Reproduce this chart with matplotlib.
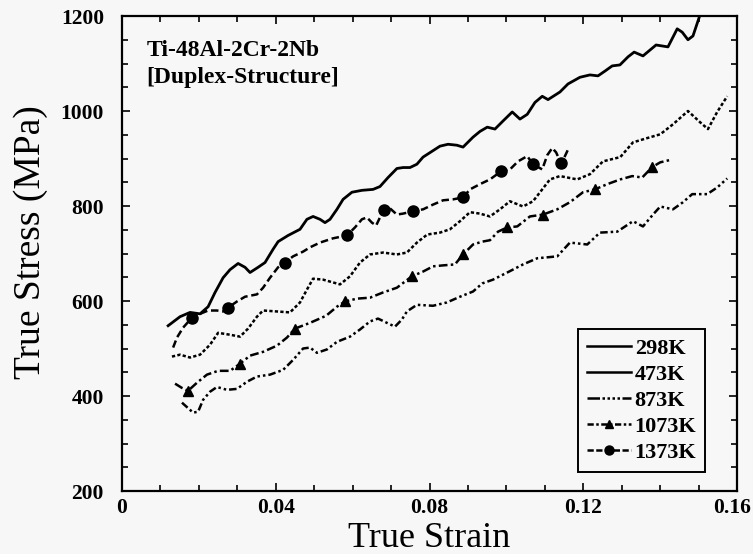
import matplotlib.pyplot as plt
import matplotlib.transforms as mtransforms
from matplotlib.lines import Line2D
from matplotlib.ticker import MultipleLocator

plt.rcParams['font.family'] = ['Liberation Serif', 'DejaVu Serif']

# ── data (true strain, true stress in MPa) ─────────────────────────────────
strain_298 = [0.0120, 0.0151, 0.0177, 0.0203, 0.0224, 0.0242, 0.0263, 0.0281, 0.0302, 0.0320,
              0.0333, 0.0354, 0.0372, 0.0393, 0.0406, 0.0432, 0.0463, 0.0481, 0.0497, 0.0515,
              0.0528, 0.0541, 0.0559, 0.0575, 0.0598, 0.0624, 0.0653, 0.0671, 0.0692, 0.0715,
              0.0731, 0.0749, 0.0767, 0.0783, 0.0806, 0.0827, 0.0848, 0.0871, 0.0887, 0.0913,
              0.0931, 0.0950, 0.0970, 0.0991, 0.1015, 0.1035, 0.1054, 0.1074, 0.1093, 0.1108,
              0.1139, 0.1160, 0.1191, 0.1217, 0.1238, 0.1256, 0.1275, 0.1295, 0.1316, 0.1332,
              0.1355, 0.1389, 0.1420, 0.1444, 0.1457, 0.1472, 0.1485, 0.1504]
stress_298 = [548, 567, 576, 573, 588, 618, 649, 666, 679, 671,
              660, 671, 681, 709, 725, 738, 751, 772, 778, 772,
              765, 772, 793, 814, 829, 833, 835, 841, 860, 879,
              881, 881, 888, 903, 915, 926, 930, 928, 924, 945,
              957, 966, 962, 979, 998, 983, 993, 1018, 1031, 1024,
              1040, 1057, 1071, 1076, 1074, 1084, 1095, 1097, 1114, 1124,
              1116, 1139, 1135, 1173, 1166, 1150, 1158, 1204]

strain_473 = [0.0130, 0.0151, 0.0177, 0.0203, 0.0229, 0.0250, 0.0281, 0.0307, 0.0328, 0.0351,
              0.0367, 0.0403, 0.0437, 0.0463, 0.0481, 0.0497, 0.0523, 0.0567, 0.0593, 0.0619,
              0.0645, 0.0679, 0.0715, 0.0741, 0.0767, 0.0794, 0.0827, 0.0853, 0.0879, 0.0905,
              0.0931, 0.0957, 0.0983, 0.1009, 0.1043, 0.1069, 0.1093, 0.1113, 0.1139, 0.1184,
              0.1217, 0.1251, 0.1296, 0.1329, 0.1366, 0.1400, 0.1433, 0.1472, 0.1504, 0.1524,
              0.1548, 0.1574]
stress_473 = [483, 487, 481, 487, 508, 533, 529, 525, 542, 567,
              580, 578, 576, 597, 624, 647, 645, 635, 652, 681,
              698, 702, 698, 702, 723, 740, 744, 751, 768, 787,
              784, 778, 793, 810, 799, 810, 835, 856, 863, 856,
              867, 894, 903, 934, 943, 951, 972, 1000, 976, 962,
              998, 1031]

strain_873 = [0.0156, 0.0185, 0.0198, 0.0211, 0.0229, 0.0247, 0.0273, 0.0299, 0.0325, 0.0351,
              0.0385, 0.0419, 0.0445, 0.0471, 0.0489, 0.0507, 0.0533, 0.0559, 0.0593, 0.0619,
              0.0645, 0.0666, 0.0689, 0.0710, 0.0728, 0.0741, 0.0767, 0.0809, 0.0845, 0.0879,
              0.0913, 0.0937, 0.0965, 0.1002, 0.1043, 0.1080, 0.1132, 0.1165, 0.1210, 0.1243,
              0.1288, 0.1329, 0.1355, 0.1381, 0.1400, 0.1433, 0.1459, 0.1483, 0.1522, 0.1548,
              0.1574]
stress_873 = [386, 365, 367, 392, 409, 419, 413, 415, 430, 441,
              445, 455, 476, 500, 502, 491, 498, 514, 525, 540,
              557, 563, 554, 546, 561, 578, 592, 590, 597, 609,
              620, 637, 645, 660, 677, 690, 694, 723, 719, 744,
              746, 768, 757, 782, 799, 793, 808, 825, 825, 839,
              858]

strain_1073 = [0.0138, 0.0156, 0.0172, 0.0195, 0.0221, 0.0250, 0.0281, 0.0307, 0.0333, 0.0367,
               0.0403, 0.0429, 0.0450, 0.0489, 0.0531, 0.0559, 0.0580, 0.0611, 0.0645, 0.0679,
               0.0715, 0.0736, 0.0754, 0.0783, 0.0809, 0.0835, 0.0866, 0.0887, 0.0913, 0.0937,
               0.0957, 0.0978, 0.1002, 0.1028, 0.1061, 0.1095, 0.1132, 0.1165, 0.1199, 0.1230,
               0.1262, 0.1296, 0.1327, 0.1353, 0.1366, 0.1379, 0.1400, 0.1431]
stress_1073 = [426, 417, 411, 428, 445, 453, 453, 468, 485, 493,
               506, 523, 542, 554, 569, 588, 599, 605, 607, 618,
               628, 641, 652, 662, 673, 675, 677, 698, 719, 725,
               728, 746, 755, 757, 778, 782, 793, 808, 829, 835,
               846, 856, 863, 860, 871, 882, 892, 898]
marks_1073 = [2, 7, 12, 16, 22, 27, 32, 35, 39, 45]

strain_1373 = [0.0133, 0.0143, 0.0159, 0.0182, 0.0203, 0.0224, 0.0247, 0.0263, 0.0276, 0.0299,
               0.0320, 0.0351, 0.0367, 0.0385, 0.0406, 0.0424, 0.0445, 0.0471, 0.0489, 0.0515,
               0.0549, 0.0585, 0.0606, 0.0624, 0.0637, 0.0650, 0.0661, 0.0671, 0.0682, 0.0697,
               0.0715, 0.0731, 0.0757, 0.0783, 0.0809, 0.0835, 0.0861, 0.0887, 0.0905, 0.0931,
               0.0957, 0.0986, 0.1009, 0.1030, 0.1054, 0.1069, 0.1093, 0.1106, 0.1119, 0.1129,
               0.1142, 0.1152, 0.1163]
stress_1373 = [502, 523, 544, 565, 573, 580, 580, 578, 586, 599,
               609, 614, 628, 649, 671, 681, 694, 704, 713, 723,
               732, 738, 755, 772, 776, 765, 759, 776, 791, 795,
               782, 784, 789, 793, 803, 812, 814, 818, 835, 846,
               856, 873, 877, 894, 905, 888, 877, 907, 922, 913,
               890, 905, 924]
marks_1373 = [3, 8, 15, 21, 28, 32, 37, 41, 45, 50]

labels = ["298K", "473K", "873K", "1073K", "1373K"]
xticks = [0, 0.04, 0.08, 0.12, 0.16]
xtick_labels = ["0", "0.04", "0.08", "0.12", "0.16"]

# ── figure ────────────────────────────────────────────────────────────────
bg = "#f7f7f7"
fig = plt.figure(figsize=(7.53, 5.54), dpi=100, facecolor=bg)
ax = fig.add_axes([0.162, 0.1137, 0.817, 0.8574], facecolor=bg)

ax.plot(strain_298, stress_298, color="black", lw=2.0, ls="-")
ax.plot(strain_473, stress_473, color="black", lw=1.8, ls=(0, (1.3, 0.9)))
ax.plot(strain_873, stress_873, color="black", lw=1.8, ls=(0, (3, 1.2, 1, 1.2, 1, 1.2)))
ax.plot(strain_1073, stress_1073, color="black", lw=1.8, ls=(0, (3.5, 1.3, 1, 1.3)),
        marker="^", markersize=7, markevery=marks_1073)
ax.plot(strain_1373, stress_1373, color="black", lw=1.8, ls=(0, (3, 1.5)),
        marker="o", markersize=8, markevery=marks_1373)

ax.set_xlim(0, 0.16)
ax.set_ylim(200, 1200)
ax.xaxis.set_minor_locator(MultipleLocator(0.01))
ax.yaxis.set_major_locator(MultipleLocator(200))
ax.yaxis.set_minor_locator(MultipleLocator(50))
ax.set_xticks(xticks)
ax.set_xticklabels(xtick_labels)

ax.tick_params(which="both", direction="in", top=True, right=True, width=1.2, color="black")
ax.tick_params(which="major", length=6)
ax.tick_params(which="minor", length=4)
ax.tick_params(axis="y", which="major", pad=13)
ax.tick_params(axis="x", which="major", pad=5)
for lab in ax.get_xticklabels() + ax.get_yticklabels():
    lab.set_fontsize(15.5)
    lab.set_fontweight("bold")
# last x label sits against the right edge of the picture
last = ax.get_xticklabels()[-1]
last.set_transform(last.get_transform() +
                   mtransforms.ScaledTranslation(-4 / 72, 0, fig.dpi_scale_trans))
for sp in ax.spines.values():
    sp.set_linewidth(1.6)

ax.set_xlabel("True Strain", fontsize=26, labelpad=3)
ax.set_ylabel("True Stress (MPa)", fontsize=27)
ax.yaxis.set_label_coords(-0.12, 0.525)

ax.text(0.04, 0.95, "Ti-48Al-2Cr-2Nb\n[Duplex-Structure]", transform=ax.transAxes,
        ha="left", va="top", fontsize=17, fontweight="bold", linespacing=1.4)

handles = [
    Line2D([], [], color="black", lw=1.8, ls="-"),
    Line2D([], [], color="black", lw=1.8, ls="-"),
    Line2D([], [], color="black", lw=1.8, ls=(0, (5, 1, 1, 1, 1, 1, 1, 1, 1, 1))),
    Line2D([], [], color="black", lw=1.8, ls=(0, (2.5, 1, 1, 1)), marker="^", markersize=6),
    Line2D([], [], color="black", lw=1.8, ls=(0, (2.5, 1)), marker="o", markersize=6.5),
]
leg = ax.legend(handles, labels, loc="lower right", bbox_to_anchor=(0.948, 0.04),
                borderaxespad=0, fancybox=False, framealpha=1, facecolor=bg,
                edgecolor="black", handlelength=2.0, handletextpad=0.15,
                labelspacing=0.25, borderpad=0.4, numpoints=1,
                prop={"size": 16, "weight": "bold"})
leg.get_frame().set_linewidth(1.4)

fig.savefig("out.png", dpi=100, facecolor=bg)
